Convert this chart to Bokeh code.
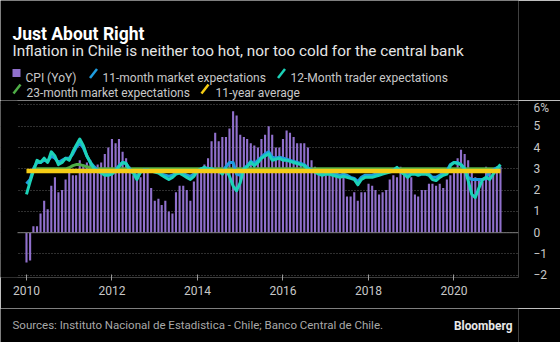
import pandas as pd
from bokeh.plotting import figure
from bokeh.layouts import column
from bokeh.models import Range1d, FixedTicker, DatetimeTickFormatter, Span, BoxAnnotation
from bokeh.core.properties import value
from bokeh.embed import file_html
from bokeh.resources import INLINE

# ---------------- data ----------------
# CPI YoY, monthly, Dec 2009 .. Jan 2021 (plotted at month end)
cpi_first_month = "2009-12"
cpi_yoy = [
    -1.4,
    -1.3, 0.3, 0.3, 0.9, 1.5, 1.1, 2.2, 2.6, 1.9, 2.0, 2.5, 2.8,   # 2010
    2.7, 2.7, 3.4, 3.2, 3.3, 3.4, 3.1, 3.2, 3.3, 3.7, 4.0, 4.4,    # 2011
    4.2, 4.4, 3.8, 3.5, 3.1, 2.7, 2.5, 2.6, 2.8, 2.9, 2.1, 1.5,    # 2012
    1.6, 1.3, 1.5, 1.0, 0.9, 1.9, 2.2, 2.2, 2.0, 1.5, 2.4, 3.0,    # 2013
    2.8, 3.2, 3.5, 4.3, 4.7, 4.3, 4.5, 4.5, 4.9, 5.7, 5.5, 4.6,    # 2014
    4.5, 4.4, 4.2, 4.1, 4.0, 4.4, 4.6, 5.0, 4.6, 4.0, 4.0, 4.4,    # 2015
    4.8, 4.7, 4.5, 4.2, 4.2, 4.2, 4.0, 3.4, 3.1, 2.8, 2.9, 2.7,    # 2016
    2.8, 2.7, 2.7, 2.7, 2.6, 1.7, 1.7, 1.9, 1.5, 1.9, 1.9, 2.3,    # 2017
    2.2, 2.0, 1.8, 1.9, 2.0, 2.5, 2.7, 2.6, 3.1, 2.9, 2.8, 2.6,    # 2018
    1.8, 1.7, 2.0, 2.0, 2.3, 2.3, 2.2, 2.3, 2.1, 2.5, 2.7, 3.0,    # 2019
    3.5, 3.9, 3.7, 3.4, 2.8, 2.6, 2.5, 2.4, 3.1, 3.0, 2.7, 3.0,    # 2020
    3.1,                                                            # 2021
]

# 11-month market expectations, monthly from Jan 2010
exp11_first_month = "2010-01"
exp11 = [
    2.3, 2.5, 3.0, 3.3, 3.3, 3.4, 3.35, 3.6, 3.5, 3.3, 3.4, 3.5,      # 2010
    3.5, 3.7, 4.0, 4.2, 4.0, 3.6, 3.3, 3.1, 2.95, 2.85, 2.8, 2.8,     # 2011
    2.8, 2.95, 3.15, 3.3, 3.25, 3.0, 2.85, 2.65, 2.85, 2.95, 2.95, 2.9,  # 2012
    2.9, 2.85, 2.75, 2.7, 2.65, 2.7, 2.8, 2.85, 2.8, 2.7, 2.65, 2.75,  # 2013
    2.9, 3.0, 3.05, 3.0, 3.0, 2.95, 2.9, 2.85, 3.1, 3.3, 3.3, 2.75,   # 2014
    2.7, 3.0, 3.15, 3.35, 3.25, 3.4, 3.55, 3.7, 3.8, 3.55, 3.5, 3.55, # 2015
    3.5, 3.45, 3.4, 3.35, 3.3, 3.25, 3.2, 3.05, 2.95, 2.9, 2.8, 2.75, # 2016
    2.8, 2.8, 2.75, 2.75, 2.7, 2.75, 2.7, 2.6, 2.55, 2.4, 2.6, 2.7,   # 2017
    2.7, 2.7, 2.75, 2.75, 2.8, 2.85, 2.9, 2.95, 3.05, 2.9, 2.8, 2.7,  # 2018
    2.8, 2.8, 2.75, 2.8, 2.8, 2.75, 2.6, 2.6, 2.7, 2.8, 2.9, 3.2,     # 2019
    3.3, 3.3, 3.2, 3.0, 2.6, 2.5, 2.5, 2.5, 2.5, 2.55, 2.9, 2.95,     # 2020
    3.05, 3.1,                                                         # 2021
]

# 12-Month trader expectations, monthly from Jan 2010
exp12_first_month = "2010-01"
exp12 = [
    1.8, 2.4, 2.9, 3.4, 3.3, 3.5, 3.3, 3.8, 3.6, 3.2, 3.3, 3.5,       # 2010
    3.4, 3.8, 4.1, 4.4, 4.1, 3.6, 3.3, 3.0, 2.9, 2.8, 2.7, 2.7,       # 2011
    2.75, 2.9, 3.1, 3.3, 3.25, 2.9, 2.8, 2.5, 2.85, 2.9, 2.9, 2.9,    # 2012
    2.85, 2.8, 2.7, 2.6, 2.5, 2.6, 2.75, 2.8, 2.7, 2.6, 2.5, 2.65,    # 2013
    2.9, 3.0, 3.07, 3.0, 3.0, 2.9, 2.9, 2.75, 3.0, 2.65, 2.2, 1.97,   # 2014
    2.35, 3.0, 3.1, 3.3, 3.15, 3.3, 3.5, 3.6, 3.7, 3.4, 3.45, 3.5,    # 2015
    3.4, 3.4, 3.35, 3.3, 3.25, 3.2, 3.15, 3.0, 2.9, 2.85, 2.75, 2.7,  # 2016
    2.75, 2.75, 2.7, 2.65, 2.6, 2.65, 2.6, 2.55, 2.5, 2.25, 2.5, 2.6, # 2017
    2.6, 2.6, 2.65, 2.7, 2.75, 2.8, 2.85, 2.9, 3.07, 2.85, 2.75, 2.6, # 2018
    2.75, 2.75, 2.7, 2.75, 2.75, 2.7, 2.5, 2.45, 2.6, 2.7, 2.75, 3.15,  # 2019
    3.3, 3.25, 3.2, 3.0, 2.45, 1.8, 1.65, 2.1, 2.5, 2.6, 2.5, 2.75,   # 2020
    3.0, 3.2,                                                          # 2021
]

# 23-month market expectations, monthly from Mar 2010
exp23_first_month = "2010-03"
exp23 = [
    3.0, 3.0, 3.0, 3.0, 3.0, 3.0, 3.0, 3.0, 3.0, 3.0,                 # 2010
    3.05, 3.15, 3.2, 3.2, 3.15, 3.1, 3.05, 3.0, 3.0, 3.0, 3.0, 3.0,   # 2011
    3.0, 3.0, 3.0, 3.0, 3.0, 3.0, 3.0, 3.0, 3.0, 3.0, 3.0, 3.0,       # 2012
    3.0, 3.0, 3.0, 3.0, 3.0, 3.0, 3.0, 3.0, 3.0, 3.0, 3.0, 3.0,       # 2013
    3.0, 3.0, 3.0, 3.0, 3.0, 3.0, 3.0, 3.0, 3.0, 3.0, 3.0, 3.0,       # 2014
    3.0, 3.0, 3.0, 3.0, 3.0, 3.0, 3.0, 3.0, 3.0, 3.0, 3.0, 3.0,       # 2015
    3.0, 3.0, 3.0, 3.0, 3.0, 3.0, 3.0, 3.0, 3.0, 3.0, 3.0, 3.0,       # 2016
    3.0, 3.0, 3.0, 3.0, 3.0, 3.0, 3.0, 3.0, 3.0, 3.0, 3.0, 3.0,       # 2017
    3.0, 3.0, 3.0, 3.0, 3.0, 3.0, 3.0, 3.0, 3.0, 3.0, 3.0, 3.0,       # 2018
    3.0, 3.0, 3.0, 3.0, 3.0, 3.0, 3.0, 3.0, 3.0, 3.0, 3.0, 3.0,       # 2019
    3.0, 3.0, 3.0, 3.0, 3.0, 3.0, 3.0, 3.0, 3.0, 3.0, 3.0, 3.0,       # 2020
    3.0, 3.0,                                                          # 2021
]

# 11-year average of CPI
avg_value = 2.9
avg_dates = ["2010-01-01", "2021-02-01"]

x_tick_years = [2010, 2012, 2014, 2016, 2018, 2020]
y_ticks = [-2, -1, 0, 1, 2, 3, 4, 5, 6]

title = "Just About Right"
subtitle = "Inflation in Chile is neither too hot, nor too cold for the central bank"
legend_labels = ["CPI (YoY)", "11-month market expectations", "12-Month trader expectations",
                 "23-month market expectations", "11-year average"]
source = "Sources: Instituto Nacional de Estadistica - Chile; Banco Central de Chile."
brand = "Bloomberg"

# ---------------- styles ----------------
C_CPI = "#9070cc"
C_11 = "#1f9de0"
C_12 = "#1cd2b8"
C_23 = "#4fae47"
C_AVG = "#f5cc14"
FONT = "Roboto"
BG = "black"
W = 560
RIGHT_BORDER = 42
FRAME_R = W - RIGHT_BORDER
HEAD_H = 100
FRAME_BOTTOM = 277          # canvas y of the plot frame's bottom edge
MAIN_H = 208
FOOT_H = 342 - HEAD_H - MAIN_H


def month_ends(first, n):
    return pd.period_range(first, periods=n, freq="M").to_timestamp(how="end")


def month_starts(first, n):
    return pd.period_range(first, periods=n, freq="M").to_timestamp()


cpi_dates = month_ends(cpi_first_month, len(cpi_yoy))
exp11_dates = month_starts(exp11_first_month, len(exp11))
exp12_dates = month_starts(exp12_first_month, len(exp12))
exp23_dates = month_starts(exp23_first_month, len(exp23))


def text_panel(height):
    f = figure(width=W, height=height, x_range=Range1d(0, FRAME_R), y_range=Range1d(height, 0),
               output_backend="svg", toolbar_location=None, x_axis_location=None,
               y_axis_location=None, min_border=0, min_border_right=RIGHT_BORDER,
               background_fill_color=BG, border_fill_color=BG, outline_line_color=None)
    f.grid.visible = False
    return f


def txt(f, x, y, s, size, color, bold=False, align="left"):
    f.text(x=[x], y=[y], text=[s], text_font=value(FONT), text_font_size=value(size),
           text_color=color, text_font_style="bold" if bold else "normal",
           text_baseline="alphabetic", text_align=align)


# ---------------- header ----------------
head = text_panel(HEAD_H)
txt(head, 12, 33, title, "17.5px", "white", bold=True)
txt(head, 12, 50, subtitle, "15.3px", "#e6e6e6")

LEG = "12px"
LEGC = "#c8c8c8"
head.quad(left=[12], right=[20], top=[68.5], bottom=[76.5], fill_color=C_CPI, line_color=None)
txt(head, 25, 77, legend_labels[0], LEG, LEGC)


def slash(x, yb, color):
    head.segment(x0=[x], y0=[yb], x1=[x + 7], y1=[yb - 9], line_color=color, line_width=2.5)


slash(89.5, 77.5, C_11)
txt(head, 102, 77, legend_labels[1], LEG, LEGC)
slash(277.5, 77.5, C_12)
txt(head, 290, 77, legend_labels[2], LEG, LEGC)
slash(13, 93, C_23)
txt(head, 26, 92.5, legend_labels[3], LEG, LEGC)
slash(201, 93, C_AVG)
txt(head, 215, 92.5, legend_labels[4], LEG, LEGC)

# ---------------- main chart ----------------
frame_h = FRAME_BOTTOM - HEAD_H
zero_y, px_per_unit = 232.2, 21.29
p = figure(width=W, height=MAIN_H, x_axis_type="datetime", output_backend="svg",
           toolbar_location=None,
           x_range=Range1d(pd.Timestamp("2009-05-24"), pd.Timestamp("2021-07-05")),
           y_range=Range1d(-(FRAME_BOTTOM - zero_y) / px_per_unit,
                           (zero_y - HEAD_H) / px_per_unit),
           y_axis_location="right",
           min_border_left=0, min_border_right=RIGHT_BORDER, min_border_top=0,
           min_border_bottom=MAIN_H - frame_h,
           background_fill_color=BG, border_fill_color=BG, outline_line_color=None)

xa = p.xaxis[0]
xa.ticker = FixedTicker(ticks=[pd.Timestamp(f"{y}-01-01").value / 1e6 for y in x_tick_years])
xa.formatter = DatetimeTickFormatter(years="%Y", months="%Y", days="%Y", hours="%Y",
                                     hourmin="%Y", minutes="%Y", minsec="%Y", seconds="%Y",
                                     milliseconds="%Y", microseconds="%Y")
xa.axis_line_color = None
xa.major_tick_in = 3
xa.major_tick_out = 3
xa.major_tick_line_color = "#9a9a9a"
xa.minor_tick_line_color = None
xa.major_label_text_color = "#c8c8c8"
xa.major_label_text_font = FONT
xa.major_label_text_font_size = "12px"
xa.major_label_standoff = 5

ya = p.yaxis[0]
ya.ticker = FixedTicker(ticks=y_ticks)
ya.major_label_overrides = {6: "6%"}
ya.axis_line_color = None
ya.major_tick_line_color = None
ya.minor_tick_line_color = None
ya.major_label_text_color = "#c8c8c8"
ya.major_label_text_font = FONT
ya.major_label_text_font_size = "12px"
ya.major_label_standoff = 9

p.xgrid.grid_line_color = None
p.ygrid.grid_line_color = "#5e5e5e"
p.ygrid.grid_line_dash = "1 2"
p.ygrid.grid_line_width = 1

bar_w = 18 * 24 * 3600 * 1000
p.vbar(x=cpi_dates, top=cpi_yoy, bottom=0, width=bar_w, fill_color=C_CPI, line_color=None)
p.add_layout(Span(location=0, dimension="width", line_color="#7a7a7a", line_width=1))

p.line(exp23_dates, exp23, line_color=C_23, line_width=3, line_join="round")
p.line(exp11_dates, exp11, line_color=C_11, line_width=3, line_join="round")
p.line(exp12_dates, exp12, line_color=C_12, line_width=3, line_join="round")
p.line(pd.to_datetime(avg_dates), [avg_value, avg_value], line_color=C_AVG, line_width=4.5)

# blank the left margin strip so grid lines start where the reference's do
p.add_layout(BoxAnnotation(right=pd.Timestamp("2009-10-16").value / 1e6, fill_color=BG,
                           fill_alpha=1, line_color=None))

# ---------------- footer ----------------
foot = text_panel(FOOT_H)
y0 = HEAD_H + MAIN_H
txt(foot, 12, 324 - y0, source, "11.5px", "#a8a8a8")
txt(foot, 512, 325 - y0, brand, "11.9px", "#e8e8e8", bold=True, align="right")

layout = column(head, p, foot, spacing=0)
open("out.html", "w").write(file_html(layout, INLINE))
